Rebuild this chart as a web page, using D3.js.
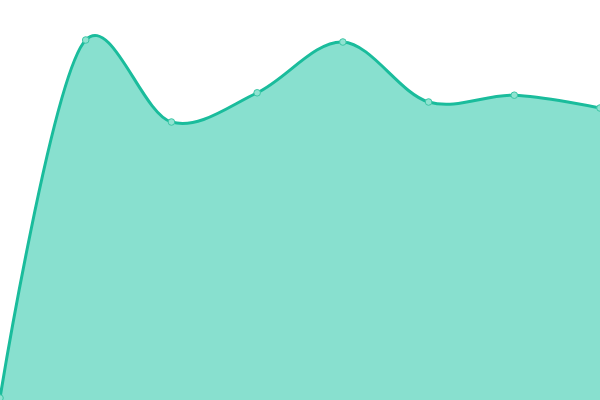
<!DOCTYPE html>
<html><head><meta charset="utf-8">
<script src="https://cdn.jsdelivr.net/npm/d3@7"></script>
<style>html,body{margin:0;padding:0;background:#fff;}svg{display:block;}</style>
</head><body>
<svg id="c" width="600" height="400"></svg>
<script>
const categories = ["A","B","C","D","E","F","G","H"];
const values = [0.5, 90, 69.5, 76.8, 89.5, 74.5, 76.2, 73];

const W = 600, H = 400;
const svg = d3.select("#c");
const x = d3.scalePoint().domain(categories).range([0, W]);
const y = d3.scaleLinear().domain([0, 100]).range([H, 0]);
const data = categories.map((c, i) => ({c, v: values[i]}));
const curve = d3.curveCatmullRom.alpha(0.2);

svg.append("path").datum(data)
  .attr("fill", "#88e0cf")
  .attr("d", d3.area().x(d => x(d.c)).y0(H).y1(d => y(d.v)).curve(curve));
svg.append("path").datum(data)
  .attr("fill", "none").attr("stroke", "#1abc9c").attr("stroke-width", 3)
  .attr("d", d3.line().x(d => x(d.c)).y(d => y(d.v)).curve(curve));
svg.selectAll("circle").data(data).join("circle")
  .attr("cx", d => x(d.c)).attr("cy", d => y(d.v)).attr("r", 3.3)
  .attr("fill", "#8fe3d1").attr("stroke", "#3cc6a6").attr("stroke-width", 1);
</script>
</body></html>
